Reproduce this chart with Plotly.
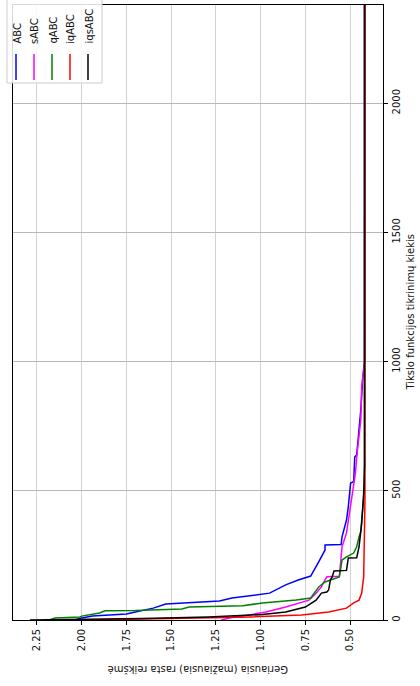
import plotly.graph_objects as go

# Best objective value found vs. number of objective-function evaluations
abc_evals = [0, 8, 15, 19, 23, 31, 46, 62, 66, 74, 85, 93, 104, 136, 155, 170, 205, 232, 271, 290, 292,
             322, 387, 438, 530, 535, 631, 639, 813, 930, 1000, 2380]
abc_best = [2.04, 2.00, 1.94, 1.86, 1.75, 1.70, 1.60, 1.53, 1.44, 1.23, 1.16, 1.06, 0.95, 0.86, 0.79, 0.72,
            0.69, 0.67, 0.64, 0.64, 0.55, 0.545, 0.52, 0.51, 0.497, 0.48, 0.474, 0.463, 0.44, 0.43, 0.419, 0.419]

sabc_evals = [0, 12, 15, 31, 50, 66, 77, 104, 128, 143, 167, 169, 232, 283, 337, 438, 515, 569, 631,
              775, 902, 1000, 2380]
sabc_best = [1.22, 1.15, 1.10, 0.97, 0.86, 0.79, 0.73, 0.69, 0.66, 0.65, 0.63, 0.56, 0.55, 0.545, 0.52,
             0.497, 0.48, 0.47, 0.463, 0.44, 0.435, 0.419, 0.419]

qabc_evals = [0, 8, 12, 15, 27, 36, 37, 43, 50, 52, 55, 66, 77, 85, 104, 128, 147, 167, 232, 244, 259,
              283, 322, 341, 387, 500, 2380]
qabc_best = [2.18, 2.15, 2.01, 2.00, 1.90, 1.87, 1.70, 1.44, 1.40, 1.17, 1.10, 0.99, 0.80, 0.72, 0.70,
             0.675, 0.64, 0.56, 0.545, 0.52, 0.48, 0.463, 0.45, 0.44, 0.435, 0.42, 0.419]

iqabc_evals = [0, 4, 7, 9, 12, 19, 31, 46, 66, 77, 104, 167, 453, 2380]
iqabc_best = [1.95, 1.57, 1.29, 1.17, 1.05, 0.77, 0.62, 0.52, 0.48, 0.45, 0.435, 0.424, 0.417, 0.4165]

iqsabc_evals = [0, 3, 6, 12, 17, 21, 31, 50, 77, 97, 104, 108, 116, 155, 167, 190, 192, 240, 241, 283,
                349, 375, 492, 600, 2380]
iqsabc_best = [2.29, 1.95, 1.66, 1.29, 1.12, 0.99, 0.86, 0.75, 0.69, 0.67, 0.66, 0.63, 0.62, 0.61, 0.60,
               0.59, 0.52, 0.51, 0.463, 0.45, 0.44, 0.435, 0.424, 0.419, 0.419]

series_names = ["ABC", "sABC", "qABC", "iqABC", "iqsABC"]
series_colors = ["#0000ff", "#ff00ff", "#008000", "#ff0000", "#000000"]
series_evals = [abc_evals, sabc_evals, qabc_evals, iqabc_evals, iqsabc_evals]
series_best = [abc_best, sabc_best, qabc_best, iqabc_best, iqsabc_best]

value_ticks = [2.25, 2.00, 1.75, 1.50, 1.25, 1.00, 0.75, 0.50]
eval_ticks = [0, 500, 1000, 1500, 2000]

value_title = "Geriausia (mažiausia) rasta reikšmė"
eval_title = "Tikslo funkcijos tikrinimų kiekis"

# Canvas and plot-area geometry (pixels); the chart is laid out sideways
W, H = 420, 686
PL, PR, PT, PB = 13, 383, 5, 620
FONT = "DejaVu Sans"


def px(x):
    return (x - PL) / (PR - PL)


def py(y):
    return (PB - y) / (PB - PT)


fig = go.Figure()
for name, color, ev, best in zip(series_names, series_colors, series_evals, series_best):
    fig.add_trace(go.Scatter(x=best, y=ev, mode="lines", name=name,
                             line=dict(color=color, width=1.5), showlegend=False))

fig.update_xaxes(range=[2.384, 0.316], tickvals=value_ticks,
                 ticktext=[f"{v:.2f}" for v in value_ticks], tickangle=-90,
                 ticks="outside", ticklen=4, tickwidth=1, tickcolor="black",
                 showline=True, linecolor="black", linewidth=1, mirror=True,
                 showgrid=True, gridcolor="#d2d2d2", gridwidth=1.2, zeroline=False,
                 tickfont=dict(family=FONT, size=10, color="#111"))
fig.update_yaxes(range=[0, 2380], tickvals=eval_ticks, side="right", tickangle=-90,
                 ticks="outside", ticklen=4, tickwidth=1, tickcolor="black",
                 showline=True, linecolor="black", linewidth=1, mirror=True,
                 showgrid=True, gridcolor="#b8b8b8", gridwidth=1, zeroline=False,
                 tickfont=dict(family=FONT, size=10, color="#111"))

annotations = [
    dict(text=value_title, textangle=180, x=px((PL + PR) / 2), y=py(670),
         xref="paper", yref="paper", showarrow=False,
         font=dict(family=FONT, size=10, color="#111"), xanchor="center", yanchor="middle"),
    dict(text=eval_title, textangle=-90, x=px(410), y=py((PT + PB) / 2),
         xref="paper", yref="paper", showarrow=False,
         font=dict(family=FONT, size=10, color="#111"), xanchor="center", yanchor="middle"),
]

# Legend box drawn sideways to match the rotated layout
shapes = [dict(type="rect", xref="paper", yref="paper", x0=px(7), x1=px(102), y0=py(83), y1=py(-6),
               line=dict(color="#cccccc", width=1), fillcolor="rgba(255,255,255,0.85)", layer="above")]
legend_x = [16, 34, 52, 70, 88]
for name, color, lx in zip(series_names, series_colors, legend_x):
    shapes.append(dict(type="line", xref="paper", yref="paper", x0=px(lx), x1=px(lx),
                       y0=py(54), y1=py(80), line=dict(color=color, width=1.5), layer="above"))
    annotations.append(dict(text=name, textangle=-90, x=px(lx + 1), y=py(46),
                            xref="paper", yref="paper", showarrow=False,
                            font=dict(family=FONT, size=10, color="#111"),
                            xanchor="center", yanchor="bottom"))

fig.update_layout(width=W, height=H, margin=dict(l=PL, r=W - PR, t=PT, b=H - PB),
                  paper_bgcolor="white", plot_bgcolor="white",
                  annotations=annotations, shapes=shapes)

fig.write_html("out.html")
